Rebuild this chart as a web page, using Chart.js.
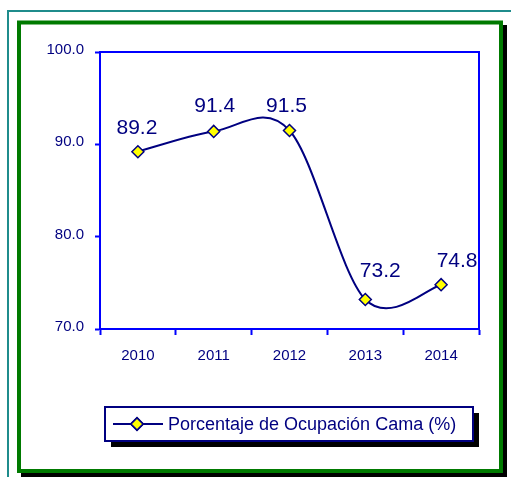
<!DOCTYPE html>
<html>
<head>
<meta charset="utf-8">
<style>
  html, body { margin: 0; padding: 0; background: #ffffff; }
  #wrap { width: 511px; height: 477px; position: relative; }
</style>
<script src="https://cdn.jsdelivr.net/npm/chart.js@4/dist/chart.umd.min.js"></script>
</head>
<body>
<div id="wrap"><canvas id="chart" width="511" height="477"></canvas></div>
<script>
// Bed occupancy by year
const years = ['2010', '2011', '2012', '2013', '2014'];
const occupancy = [89.2, 91.4, 91.5, 73.2, 74.8];
const seriesName = 'Porcentaje de Ocupación Cama (%)';
const yTicks = [70, 80, 90, 100];

const NAVY = '#000080';
const BLUE = '#0000ff';
const FONT = 'Arial, "Liberation Sans", sans-serif';

// Page frame: teal rule, green border with black drop shadow
const framePlugin = {
  id: 'frame',
  beforeDraw(chart) {
    const ctx = chart.ctx;
    ctx.save();
    ctx.fillStyle = '#ffffff';
    ctx.fillRect(0, 0, chart.width, chart.height);
    // teal rule
    ctx.fillStyle = '#1f8c8c';
    ctx.fillRect(7, 10, chart.width - 7, 2);
    ctx.fillRect(7, 10, 2, chart.height - 10);
    // shadow
    ctx.fillStyle = '#000000';
    ctx.fillRect(503, 25, 4, 452);
    ctx.fillRect(21, 473, 486, 4);
    // green border
    ctx.strokeStyle = '#007a00';
    ctx.lineWidth = 4;
    ctx.strokeRect(19, 22.5, 482, 448.5);
    ctx.restore();
  }
};

// Top and right edges of the plot box
const plotBoxPlugin = {
  id: 'plotBox',
  afterDraw(chart) {
    const a = chart.chartArea;
    const ctx = chart.ctx;
    ctx.save();
    ctx.strokeStyle = BLUE;
    ctx.lineWidth = 2;
    ctx.beginPath();
    ctx.moveTo(a.left, a.top);
    ctx.lineTo(a.right, a.top);
    ctx.lineTo(a.right, a.bottom);
    ctx.stroke();
    ctx.restore();
  }
};

// Smooth curve: control points from neighbouring points (Catmull-Rom style)
const smoothPlugin = {
  id: 'smoothCurve',
  beforeDatasetDraw(chart, args) {
    const meta = args.meta;
    if (!meta.dataset) return;
    meta.dataset.updateControlPoints(chart.chartArea, 'x');
    const pts = meta.data;
    for (let i = 0; i < pts.length; i++) {
      const p = pts[i];
      const prev = pts[i - 1] || p;
      const next = pts[i + 1] || p;
      const dx = (next.x - prev.x) / 6;
      const dy = (next.y - prev.y) / 6;
      p.cp1x = p.x - dx; p.cp1y = p.y - dy;
      p.cp2x = p.x + dx; p.cp2y = p.y + dy;
    }
  }
};

// Value labels above each point
const valueLabelPlugin = {
  id: 'valueLabels',
  afterDatasetsDraw(chart, args, opts) {
    const ctx = chart.ctx;
    const meta = chart.getDatasetMeta(0);
    const values = chart.data.datasets[0].data;
    ctx.save();
    ctx.font = opts.font;
    ctx.fillStyle = opts.color;
    ctx.textAlign = 'center';
    ctx.textBaseline = 'alphabetic';
    meta.data.forEach((pt, i) => {
      const off = opts.offsets[i] || [0, -18];
      ctx.fillText(values[i].toFixed(1), pt.x + off[0], pt.y + off[1]);
    });
    ctx.restore();
  }
};

// Boxed legend with shadow, line-and-marker swatch
const boxLegendPlugin = {
  id: 'boxLegend',
  afterDraw(chart, args, opts) {
    const ctx = chart.ctx;
    const ds = chart.data.datasets[0];
    const { x, y, w, h } = opts.box;
    ctx.save();
    ctx.fillStyle = '#000000';
    ctx.fillRect(x + 6, y + 6, w, h);
    ctx.fillStyle = '#ffffff';
    ctx.fillRect(x, y, w, h);
    ctx.strokeStyle = ds.borderColor;
    ctx.lineWidth = 2;
    ctx.strokeRect(x, y, w, h);
    const cy = y + h / 2;
    ctx.lineWidth = ds.borderWidth;
    ctx.beginPath();
    ctx.moveTo(x + 8, cy);
    ctx.lineTo(x + 58, cy);
    ctx.stroke();
    Chart.helpers.drawPoint(ctx, {
      pointStyle: ds.pointStyle,
      radius: ds.pointRadius,
      borderWidth: ds.pointBorderWidth
    }, x + 32, cy);
    ctx.fillStyle = ds.pointBackgroundColor;
    ctx.strokeStyle = ds.pointBorderColor;
    ctx.lineWidth = ds.pointBorderWidth;
    ctx.fill();
    ctx.stroke();
    ctx.font = opts.font;
    ctx.fillStyle = opts.color;
    ctx.textAlign = 'left';
    ctx.textBaseline = 'middle';
    ctx.fillText(ds.label, x + 63, cy + 1);
    ctx.restore();
  }
};

new Chart(document.getElementById('chart'), {
  type: 'line',
  data: {
    labels: years,
    datasets: [{
      label: seriesName,
      data: occupancy,
      borderColor: NAVY,
      borderWidth: 2,
      tension: 0.4,
      fill: false,
      pointStyle: 'rectRot',
      pointRadius: 6,
      pointHoverRadius: 6,
      pointBackgroundColor: '#ffff00',
      pointBorderColor: NAVY,
      pointBorderWidth: 1.5
    }]
  },
  options: {
    responsive: false,
    animation: false,
    events: [],
    layout: { padding: { left: 20, top: 52, right: 32, bottom: 108 } },
    scales: {
      x: {
        offset: true,
        grid: {
          offset: true,
          drawOnChartArea: false,
          drawTicks: true,
          tickLength: 6,
          tickWidth: 2,
          tickColor: BLUE
        },
        border: { display: true, color: BLUE, width: 2 },
        ticks: {
          color: NAVY,
          font: { family: FONT, size: 15 },
          padding: 12,
          maxRotation: 0
        },
        afterFit(scale) { scale.height = 40; }
      },
      y: {
        min: 70,
        max: 100,
        afterBuildTicks(scale) { scale.ticks = yTicks.map(v => ({ value: v })); },
        grid: {
          drawOnChartArea: false,
          drawTicks: true,
          tickLength: 5,
          tickWidth: 2,
          tickColor: BLUE
        },
        border: { display: true, color: BLUE, width: 2 },
        ticks: {
          color: NAVY,
          font: { family: FONT, size: 15 },
          padding: 11,
          labelOffset: -2,
          callback: v => Number(v).toFixed(1)
        },
        afterFit(scale) { scale.width = 80; }
      }
    },
    plugins: {
      legend: { display: false },
      tooltip: { enabled: false },
      valueLabels: {
        font: '21px ' + FONT,
        color: NAVY,
        offsets: [[-1, -18], [1, -19], [-3, -18], [15, -22], [16, -18]]
      },
      boxLegend: {
        box: { x: 105, y: 407, w: 368, h: 34 },
        font: '18px ' + FONT,
        color: NAVY
      }
    }
  },
  plugins: [framePlugin, plotBoxPlugin, smoothPlugin, valueLabelPlugin, boxLegendPlugin]
});
</script>
</body>
</html>
